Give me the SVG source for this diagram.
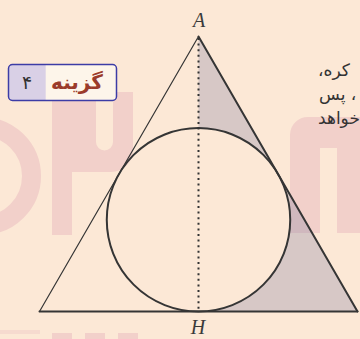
<svg xmlns="http://www.w3.org/2000/svg" width="360" height="339" viewBox="0 0 360 339">
<style>
.wm{fill:#f2d0ca}
.edge{stroke:#353535;fill:none;stroke-linecap:round}
.lbl{font-family:"Liberation Serif",serif;font-style:italic;font-size:20px;fill:#3a3a3a;text-anchor:middle}
.para{font-family:"DejaVu Sans",sans-serif;font-size:17px;fill:#333;direction:rtl;text-anchor:end}
</style>
<rect width="360" height="339" fill="#fce8d6"/>
<g id="watermark">
<circle cx="-18" cy="176" r="49.5" fill="none" stroke="#f2d0ca" stroke-width="19"/>
<rect class="wm" x="52" y="92" width="20" height="143"/>
<path class="wm" d="M72,92 H78 V152 H72 Z"/>
<path class="wm" d="M78,92 H96 V142 A8,8 0 0 0 113,142 V92 H133 V150 A22,22 0 0 1 111,172 H72 V152 H78 Z"/>
<path class="wm" d="M290,233 V135 A18,18 0 0 1 308,117 H360 V233 H337 V148 H320 V233 Z"/>
<rect class="wm" x="0" y="330" width="40" height="4" opacity="0.6"/>
<rect class="wm" x="52" y="333" width="20" height="6"/>
<rect class="wm" x="85" y="333" width="20" height="6"/>
<rect class="wm" x="118" y="333" width="20" height="6"/>
</g>
<g id="shading" fill="#8f8aa6" fill-opacity="0.34">
<path d="M198.5,36.5 L198.5,128.04 A91.73,91.73 0 0 1 277.91,173.86 Z"/>
<path d="M277.91,173.86 L357.5,311.5 L198.5,311.5 A91.73,91.73 0 0 0 277.91,173.86 Z"/>
</g>
<g id="triangle">
<line class="edge" x1="198.5" y1="36.5" x2="39.5" y2="311.5" stroke-width="1.2"/>
<line class="edge" x1="198.5" y1="36.5" x2="357.5" y2="311.5" stroke-width="2"/>
<line class="edge" x1="39.5" y1="311.5" x2="357.5" y2="311.5" stroke-width="2"/>
</g>
<g id="circle">
<circle class="edge" cx="198.5" cy="219.77" r="91.73" stroke-width="2"/>
</g>
<g id="altitude">
<line x1="198.5" y1="38" x2="198.5" y2="311" stroke="#333" stroke-width="2" stroke-dasharray="2 3.6"/>
</g>
<g id="labels">
<text class="lbl" x="199" y="27">A</text>
<text class="lbl" x="198" y="334">H</text>
</g>
<g id="option-box">
<rect x="8.5" y="64.5" width="108" height="36" rx="4" fill="#fdf5ea"/>
<path d="M12.5,64.5 H45.7 V100.5 H12.5 A4,4 0 0 1 8.5,96.5 V68.5 A4,4 0 0 1 12.5,64.5 Z" fill="#d9d0e6"/>
<rect x="8.5" y="64.5" width="108" height="36" rx="4" fill="none" stroke="#3c3ca6" stroke-width="1.5"/>
<text x="77" y="89" font-family="DejaVu Sans,sans-serif" font-weight="bold" font-size="20" fill="#9b3b2b" text-anchor="middle">گزینه</text>
<text x="27" y="89" font-family="DejaVu Sans,sans-serif" font-size="19" fill="#333" text-anchor="middle">۴</text>
</g>
<g id="paragraph">
<text class="para" x="318" y="76">کره،</text>
<text class="para" x="319" y="100">، پس</text>
<text class="para" x="318" y="124" fill="#4b2e45">خواهد</text>
</g>
</svg>
